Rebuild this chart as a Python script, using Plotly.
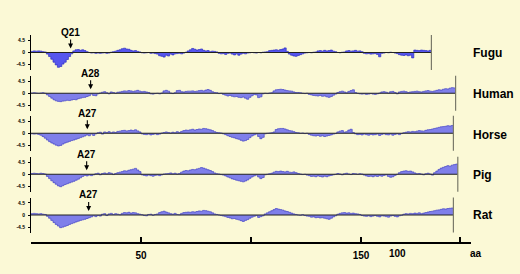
import plotly.graph_objects as go

# ---------------- data (hydrophobicity per residue) ----------------
species = ["Fugu", "Human", "Horse", "Pig", "Rat"]
site_labels = ["Q21", "A28", "A27", "A27", "A27"]
site_positions = [18.0, 27.1, 25.6, 25.3, 26.2]

fugu = [0.4,0.6,0.5,0.6,0.5,0.3,0.2,
        -0.6,-1.5,-2.5,-3.6,-4.6,-5.5,-5.2,-4.3,-3.6,-2.6,-1.5,-0.5,
        0.6,1.0,1.1,0.8,1.0,0.7,0.3,
        0.0,-0.2,-0.1,-0.3,-0.2,-0.3,-0.2,-0.1,-0.3,-0.2,0.1,0.3,
        0.5,0.8,1.0,1.4,1.6,1.3,1.2,0.8,0.6,0.7,0.4,0.2,
        -0.1,-0.2,-0.1,0.0,-0.3,-0.2,-0.4,-0.6,
        -1.2,-1.4,-1.7,-1.0,-1.3,-0.6,-0.9,-0.5,
        -0.4,-0.3,-0.5,-0.2,0.1,
        0.6,1.0,1.5,1.2,0.9,1.1,1.3,0.8,0.6,0.7,0.3,0.5,
        0.4,0.2,-0.3,-0.5,-0.4,-0.7,-0.3,-0.2,
        -0.6,-0.9,-0.5,-1.0,-0.6,-0.3,-0.5,-0.2,
        -0.1,0.0,-0.1,-0.2,0.0,-0.1,0.1,0.2,0.3,
        0.7,0.8,0.9,1.0,0.8,1.1,1.3,1.7,0.4,
        -0.6,-1.0,-1.3,-1.4,-1.1,-0.8,-0.5,
        -0.2,-0.1,0.0,-0.1,0.1,0.2,
        0.6,0.7,0.5,0.8,0.6,0.7,0.9,0.5,0.3,
        0.0,-0.1,0.1,0.2,
        0.6,0.7,0.5,0.6,0.8,0.5,0.6,0.3,
        -0.3,-0.5,-0.4,-0.6,-0.5,-0.4,-0.7,-1.6,-0.3,-0.2,
        0.0,-0.1,0.1,0.0,-0.2,-0.4,
        -0.8,-1.0,-1.1,-0.9,-1.2,-1.0,-2.0,
        0.9,0.8,0.7,0.9,0.8,0.7,0.6,0.8]

human = [0.1,0.2,0.1,0.0,0.1,0.2,0.0,
         -0.6,-1.2,-1.8,-2.4,-2.8,-3.0,-3.1,-2.9,-2.8,-2.6,-2.7,-2.5,-2.3,-2.4,-2.0,-1.8,-1.6,-1.5,-1.2,-0.9,
         -0.3,-0.8,-0.9,-0.2,0.1,
         0.4,0.6,0.2,-0.2,0.5,0.3,0.0,0.4,0.5,
         0.7,0.9,0.8,1.0,0.9,0.7,0.9,1.1,0.8,0.6,0.7,0.5,0.3,
         -0.2,-0.3,-0.1,0.0,-0.2,0.1,
         0.9,1.1,0.8,
         0.1,-0.1,0.2,
         1.0,1.1,0.6,
         0.5,0.7,0.8,0.8,0.9,0.7,0.8,1.0,1.1,0.9,1.2,1.4,1.1,
         0.6,0.3,0.2,-0.1,0.0,
         -0.4,-0.7,-1.0,-0.8,-1.1,-1.3,-1.2,-1.5,-1.6,-1.4,-1.8,-2.2,-1.5,-0.9,-0.4,
         -0.6,-1.6,-1.3,
         -0.2,0.0,-0.1,0.1,0.2,
         0.9,1.3,1.4,1.5,1.4,1.2,1.0,0.9,0.8,0.5,0.3,
         0.3,0.2,0.0,-0.1,0.0,
         -0.4,-0.6,-0.8,-0.9,-1.0,-0.8,-1.1,-1.0,-1.3,-1.5,-1.2,-0.7,-0.3,
         0.3,0.6,0.8,0.5,0.2,0.7,1.0,1.3,0.3,
         0.0,-0.2,-0.3,-0.2,-0.4,-0.3,-0.1,-0.3,-0.4,-0.2,
         0.1,0.5,0.6,0.4,0.1,0.6,0.7,0.3,-0.2,0.5,0.7,0.8,0.6,0.3,
         0.5,0.6,0.7,0.8,0.6,0.5,0.7,0.9,1.0,0.8,0.7,0.9,1.1,1.3,1.2,1.5,1.7,1.6,1.9,2.1,2.0]

horse = [-0.2,-0.3,-0.2,-0.4,
         -0.7,-1.2,-1.8,-2.5,-3.1,-3.6,-4.0,-4.4,-4.7,-4.5,-4.0,-3.6,-3.3,-3.0,-2.7,-2.5,-2.2,-1.9,-1.6,-1.3,-1.0,
         -0.6,-0.9,-0.3,-0.8,-0.2,
         0.2,0.4,-0.3,0.5,0.3,0.6,0.2,0.5,0.3,0.7,
         0.8,1.0,1.1,0.9,1.0,1.2,1.0,1.3,0.9,0.5,
         -0.2,-0.4,-0.5,-0.3,-0.6,-0.4,-0.2,-0.5,-0.3,0.1,0.3,
         0.5,0.3,0.1,0.4,0.2,0.6,0.3,
         0.7,1.0,1.2,1.1,1.3,1.5,1.2,1.4,1.6,1.5,1.8,1.7,1.5,1.3,1.0,0.6,
         0.3,0.2,0.1,-0.2,
         -0.5,-0.9,-1.2,-1.5,-1.7,-2.0,-2.2,-2.6,-2.9,-2.7,-2.3,-1.6,-1.0,-0.6,-0.3,
         -1.2,-2.0,-1.5,
         -0.2,0.0,0.1,0.2,0.5,
         1.4,1.7,1.8,1.8,1.6,1.3,1.0,0.9,0.6,
         0.3,0.2,0.0,0.1,-0.1,0.0,
         -0.4,-0.7,-0.9,-1.0,-0.8,-1.1,-0.9,-1.2,-1.0,-0.8,-0.6,-0.3,-0.1,
         0.5,0.8,1.0,0.4,0.6,1.2,1.5,0.3,
         -0.2,-0.5,-0.4,-0.6,-0.3,-0.5,-0.7,-0.4,-0.6,-0.5,-0.3,-0.8,-0.4,-0.2,-0.5,-0.6,-0.3,-0.7,-0.4,-0.2,-0.5,-0.1,
         0.2,0.4,0.6,0.5,0.7,0.6,0.8,1.0,0.9,0.8,1.1,1.3,1.4,1.6,1.8,2.0,2.2,2.4,2.5,2.6,2.8,2.7,2.9]

pig = [0.3,0.4,0.3,0.2,0.4,0.3,0.1,
       -0.8,-1.6,-2.4,-3.1,-3.7,-4.3,-4.6,-4.2,-3.8,-3.5,-3.2,-2.9,-2.6,-2.2,-1.8,-1.3,-0.8,
       -0.4,-0.6,-0.3,-0.5,-0.2,
       0.2,0.4,-0.2,0.3,0.5,0.2,0.6,0.4,-0.1,0.3,0.6,
       0.8,1.0,1.3,1.2,1.5,1.7,1.9,2.2,1.6,1.0,
       -0.2,-0.4,-0.6,-0.3,-0.5,-0.7,-0.4,-0.3,-0.5,-0.2,0.1,0.2,
       0.3,0.5,0.2,0.4,0.1,0.3,
       0.8,1.2,1.4,1.3,1.6,1.8,1.7,2.0,2.2,2.5,2.3,2.0,1.7,1.4,1.0,0.5,
       0.2,0.1,-0.1,-0.3,
       -0.6,-1.0,-1.3,-1.7,-1.9,-2.2,-2.4,-2.6,-2.8,-2.5,-2.1,-1.5,-1.0,-0.6,-0.3,
       -1.0,-1.6,-1.2,
       -0.2,0.0,0.2,0.4,
       0.8,1.1,1.0,1.2,1.0,0.9,1.1,0.8,0.7,0.9,0.6,0.3,
       0.1,-0.1,0.0,
       -0.3,-0.5,-0.8,-0.7,-0.9,-0.6,-0.8,-1.0,-0.7,-0.9,-0.6,-0.4,-0.2,0.0,
       0.3,0.1,-0.2,0.2,0.4,0.1,-0.1,0.3,0.2,0.0,0.2,0.1,
       -0.3,-0.6,-0.8,-0.7,-0.9,-0.6,-0.8,-0.5,-0.7,-0.4,-0.2,
       -0.8,-1.1,-0.9,-0.4,0.0,
       0.6,1.0,1.2,1.3,1.1,1.2,0.9,0.5,
       0.2,0.3,0.1,-0.2,0.2,0.4,0.1,-0.3,
       0.6,1.2,1.8,2.3,2.6,2.9,3.2,3.0,3.4,3.6,3.8]

rat = [0.5,0.6,0.5,0.4,0.5,0.3,0.2,
       -0.5,-1.2,-2.0,-2.8,-3.5,-4.1,-4.7,-4.5,-4.2,-3.9,-3.5,-3.2,-2.9,-2.6,-2.3,-2.0,-1.8,-1.6,-1.3,-1.0,-0.7,
       -0.3,-0.6,-0.2,-0.4,
       0.3,0.5,-0.2,0.4,0.6,0.2,0.5,0.3,0.1,
       0.6,0.9,0.8,1.0,0.7,0.9,0.8,0.5,0.3,
       0.1,-0.2,-0.3,0.2,0.3,-0.1,0.2,0.4,
       0.9,1.2,1.4,1.1,0.8,
       0.5,0.3,0.6,0.2,0.1,
       0.6,0.9,1.0,1.1,1.0,1.2,1.1,1.3,1.5,1.4,1.7,1.6,1.4,1.2,0.8,0.4,
       0.2,0.0,-0.2,-0.4,
       -0.6,-0.9,-1.1,-1.4,-1.3,-1.6,-1.8,-2.1,-2.4,-2.0,-1.7,-1.2,-0.8,-0.5,-0.2,
       -0.9,-0.6,-0.3,
       0.4,0.8,1.2,1.6,2.0,2.4,2.2,2.0,1.8,1.5,1.3,1.0,0.7,0.4,
       0.2,0.0,-0.1,0.1,-0.2,-0.4,
       -0.5,-0.8,-0.7,-1.0,-0.9,-1.1,-1.0,-1.2,-1.4,-1.6,-1.2,-0.7,-0.3,
       0.3,0.6,0.8,0.9,0.7,0.8,0.6,0.7,0.5,0.4,0.2,
       -0.2,-0.4,-0.5,-0.3,-0.6,-0.4,-0.2,-0.5,-0.7,-0.3,-0.4,-0.6,-0.8,-0.4,-0.2,-0.5,-0.7,-0.3,-0.1,
       0.3,0.5,0.4,0.6,0.5,0.7,0.6,0.8,0.5,0.7,0.9,1.1,1.3,1.4,1.6,1.8,1.9,2.1,2.3,2.2,2.4,2.5,2.6]

profiles = [fugu, human, horse, pig, rat]

y_tick_vals = [-4.5, 0, 4.5]
y_tick_text = ["-4.5", "0", "4.5"]
x_tick_vals = [0, 50, 100, 150, 195, 200]
x_tick_text = ["", "50", "", "150", "", ""]
extra_x_labels = [("100", 397), ("aa", 476)]   # label text, horizontal pixel

# ---------------- layout constants (pixels) ----------------
W, H = 520, 274
BG = "#fbf9d6"
zero_px = [52.5, 93.3, 133.3, 174.3, 215.0]
half_px = 17.5
label_px = [53.3, 94.3, 135.0, 175.0, 215.0]
fills = ["#5656ee", "#7f7fea", "#7f7fea", "#7f7fea", "#7f7fea"]
edges = ["#2e2ec4", "#4646c8", "#4646c8", "#4646c8", "#4646c8"]

def py(px):
    return 1 - px / H

fig = go.Figure()
layout = dict(
    width=W, height=H, margin=dict(l=0, r=0, t=0, b=0, pad=0), autosize=False,
    paper_bgcolor=BG, plot_bgcolor=BG, showlegend=False,
    xaxis=dict(domain=[31 / W, 471 / W], range=[0, 200], anchor="free",
               position=py(243), showgrid=False, zeroline=False,
               showline=True, linecolor="black", linewidth=2,
               ticks="inside", ticklen=5, tickwidth=2, tickcolor="black",
               tickvals=x_tick_vals, ticktext=x_tick_text,
               tickfont=dict(family="Arial", size=10, color="black", weight="bold"),
               ticklabelstandoff=3, fixedrange=True, automargin=False),
)

shapes = []
annotations = []
for k, (name, vals) in enumerate(zip(species, profiles)):
    ax_id = "" if k == 0 else str(k + 1)
    n = len(vals)
    fig.add_trace(go.Scatter(
        x=list(range(n + 1)), y=vals + [vals[-1]], mode="lines",
        line=dict(shape="hv", color=edges[k], width=0.7),
        fill="tozeroy", fillcolor=fills[k],
        xaxis="x", yaxis="y" + ax_id, hoverinfo="skip"))
    layout["yaxis" + ax_id] = dict(
        domain=[py(zero_px[k] + half_px), py(zero_px[k] - half_px)],
        range=[-6.5, 6.5], anchor="x", showgrid=False, zeroline=False,
        showline=True, linecolor="black", linewidth=1,
        ticks="outside", ticklen=2, tickcolor="black",
        tickvals=y_tick_vals, ticktext=y_tick_text,
        tickfont=dict(family="Arial", size=5, color="black", weight="bold"),
        ticklabelstandoff=2, fixedrange=True, automargin=False)
    # zero line
    shapes.append(dict(type="line", xref="x", yref="y" + ax_id,
                       x0=0, x1=n, y0=0, y1=0,
                       line=dict(color="#222222", width=1.1)))
    # end-of-sequence line
    shapes.append(dict(type="line", xref="x", yref="y" + ax_id + " domain",
                       x0=n, x1=n, y0=0, y1=1,
                       line=dict(color="#7a7a6a", width=1.2)))
    # species name
    annotations.append(dict(text=name, x=471 / W, y=py(label_px[k]),
                            xref="paper", yref="paper", xanchor="left",
                            yanchor="middle", showarrow=False,
                            font=dict(family="Arial", size=12, color="black",
                                      weight="bold")))
    # site arrow
    annotations.append(dict(text=site_labels[k], x=site_positions[k], y=1.5,
                            xref="x", yref="y" + ax_id, showarrow=True,
                            ax=0, ay=-16, arrowhead=2, arrowsize=0.9,
                            arrowwidth=1.1, arrowcolor="black",
                            font=dict(family="Arial", size=10, color="black",
                                      weight="bold")))

for txt, xpx in extra_x_labels:
    annotations.append(dict(text=txt, x=xpx / W, y=py(253), xref="paper", yref="paper",
                            showarrow=False, xanchor="center", yanchor="middle",
                            font=dict(family="Arial", size=10, color="black",
                                      weight="bold")))

layout["shapes"] = shapes
layout["annotations"] = annotations
fig.update_layout(**layout)
fig.write_html("out.html", config={"displayModeBar": False, "staticPlot": True},
               post_script="document.body.style.margin='0';document.body.style.padding='0';document.body.style.background='" + BG + "';")
